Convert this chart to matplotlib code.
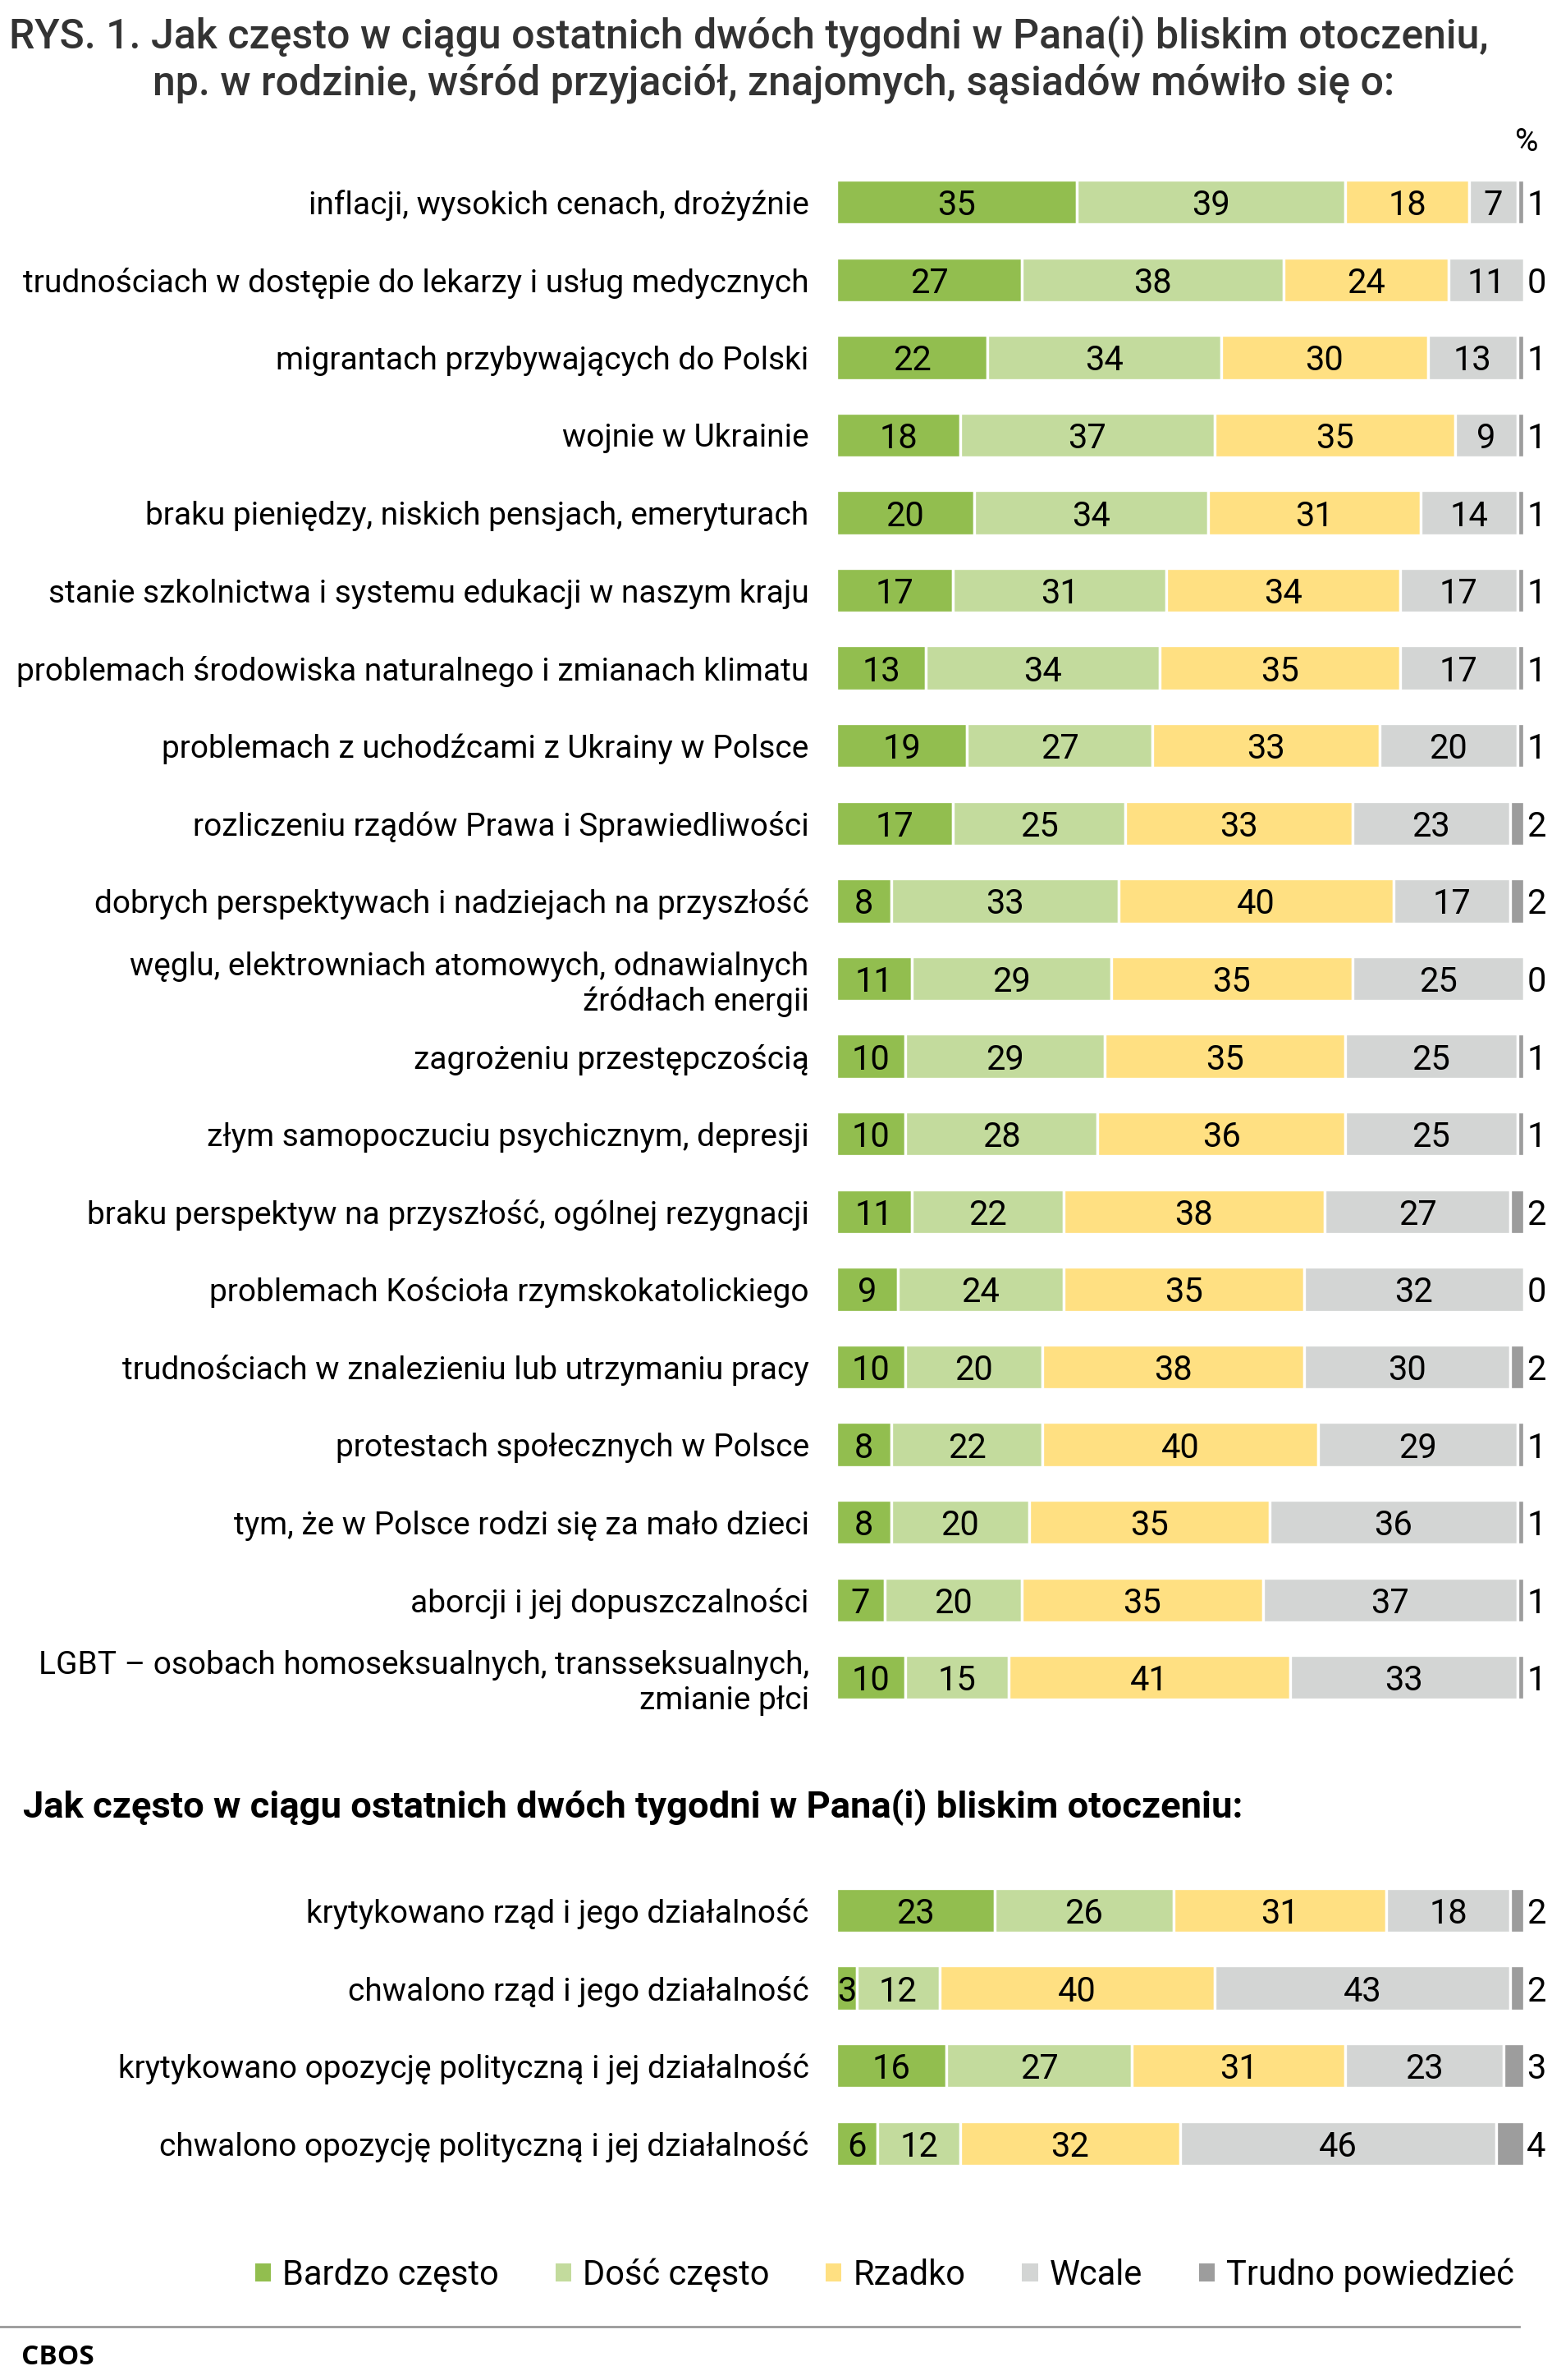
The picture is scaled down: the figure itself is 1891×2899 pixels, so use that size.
import numpy as np
import matplotlib.pyplot as plt
from matplotlib.patches import Patch
from matplotlib.lines import Line2D

plt.rcParams['font.family'] = ['Roboto', 'DejaVu Sans']

# first block: topics of conversation
topics = [
    "inflacji, wysokich cenach, drożyźnie",
    "trudnościach w dostępie do lekarzy i usług medycznych",
    "migrantach przybywających do Polski",
    "wojnie w Ukrainie",
    "braku pieniędzy, niskich pensjach, emeryturach",
    "stanie szkolnictwa i systemu edukacji w naszym kraju",
    "problemach środowiska naturalnego i zmianach klimatu",
    "problemach z uchodźcami z Ukrainy w Polsce",
    "rozliczeniu rządów Prawa i Sprawiedliwości",
    "dobrych perspektywach i nadziejach na przyszłość",
    "węglu, elektrowniach atomowych, odnawialnych\nźródłach energii",
    "zagrożeniu przestępczością",
    "złym samopoczuciu psychicznym, depresji",
    "braku perspektyw na przyszłość, ogólnej rezygnacji",
    "problemach Kościoła rzymskokatolickiego",
    "trudnościach w znalezieniu lub utrzymaniu pracy",
    "protestach społecznych w Polsce",
    "tym, że w Polsce rodzi się za mało dzieci",
    "aborcji i jej dopuszczalności",
    "LGBT – osobach homoseksualnych, transseksualnych,\nzmianie płci",
]
bardzo = [35, 27, 22, 18, 20, 17, 13, 19, 17, 8, 11, 10, 10, 11, 9, 10, 8, 8, 7, 10]
dosc = [39, 38, 34, 37, 34, 31, 34, 27, 25, 33, 29, 29, 28, 22, 24, 20, 22, 20, 20, 15]
rzadko = [18, 24, 30, 35, 31, 34, 35, 33, 33, 40, 35, 35, 36, 38, 35, 38, 40, 35, 35, 41]
wcale = [7, 11, 13, 9, 14, 17, 17, 20, 23, 17, 25, 25, 25, 27, 32, 30, 29, 36, 37, 33]
trudno = [1, 0, 1, 1, 1, 1, 1, 1, 2, 2, 0, 1, 1, 2, 0, 2, 1, 1, 1, 1]

# second block: government / opposition
gov_topics = [
    "krytykowano rząd i jego działalność",
    "chwalono rząd i jego działalność",
    "krytykowano opozycję polityczną i jej działalność",
    "chwalono opozycję polityczną i jej działalność",
]
gov_bardzo = [23, 3, 16, 6]
gov_dosc = [26, 12, 27, 12]
gov_rzadko = [31, 40, 31, 32]
gov_wcale = [18, 43, 23, 46]
gov_trudno = [2, 2, 3, 4]

categories = ["Bardzo często", "Dość często", "Rzadko", "Wcale", "Trudno powiedzieć"]
colors = ["#92BE4F", "#C3DB9D", "#FFE082", "#D3D5D4", "#9D9D9D"]

labels = topics + gov_topics
data = np.array([
    bardzo + gov_bardzo,
    dosc + gov_dosc,
    rzadko + gov_rzadko,
    wcale + gov_wcale,
    trudno + gov_trudno,
])
ypos = list(range(len(topics))) + list(range(len(topics) + 2, len(topics) + 2 + len(gov_topics)))

W, H = 1891, 2899
fig = plt.figure(figsize=(W / 100, H / 100), dpi=100)
ax = fig.add_axes([1019 / W, 0.0831, (1857 - 1019) / W, 0.8483])

left = np.zeros(len(labels))
for i, (cat, col) in enumerate(zip(categories, colors)):
    vals = data[i]
    ax.barh(ypos, vals, left=left, height=0.575, color=col,
            edgecolor="white", linewidth=2.4)
    for y, v, l in zip(ypos, vals, left):
        if i < 4:
            ax.text(l + v / 2, y, str(v), ha="center", va="center_baseline",
                    fontsize=30, color="black")
        else:
            ax.text(100.4, y, str(v), ha="left", va="center_baseline",
                    fontsize=30, color="black", clip_on=False)
    left += vals

ax.set_xlim(0, 100)
ax.set_ylim(ypos[-1] + 0.5, -0.5)
ax.set_yticks(ypos, labels, fontsize=28, color="black")
ax.tick_params(axis="y", length=0, pad=24)
ax.set_xticks([])
for s in ax.spines.values():
    s.set_visible(False)

# titles
fig.text(912 / W, 1 - 45 / H,
         "RYS. 1. Jak często w ciągu ostatnich dwóch tygodni w Pana(i) bliskim otoczeniu,",
         ha="center", va="center", fontsize=36, fontweight="medium", color="#333333")
fig.text(943 / W, 1 - 102 / H,
         "np. w rodzinie, wśród przyjaciół, znajomych, sąsiadów mówiło się o:",
         ha="center", va="center", fontsize=36, fontweight="medium", color="#333333")
fig.text(1846 / W, 1 - 174 / H, "%", ha="left", va="center", fontsize=28)
fig.text(28 / W, 1 - 2201 / H,
         "Jak często w ciągu ostatnich dwóch tygodni w Pana(i) bliskim otoczeniu:",
         ha="left", va="center", fontsize=32.7, fontweight="bold", color="black")

handles = [Patch(facecolor=c, edgecolor="none", label=cat) for cat, c in zip(categories, colors)]
fig.legend(handles=handles, ncol=5, loc="center", bbox_to_anchor=(0.57, 1 - 2771 / H),
           frameon=False, fontsize=30, handlelength=0.46, handleheight=0.46,
           handletextpad=0.34, columnspacing=1.65)

fig.add_artist(Line2D([0, 1851 / W], [1 - 2834 / H, 1 - 2834 / H], color="#999999", lw=2))
fig.text(26 / W, 1 - 2871 / H, "CBOS", ha="left", va="center", fontsize=24,
         fontweight="bold", family="Open Sans")

fig.savefig("out.png", dpi=100, facecolor="white")
